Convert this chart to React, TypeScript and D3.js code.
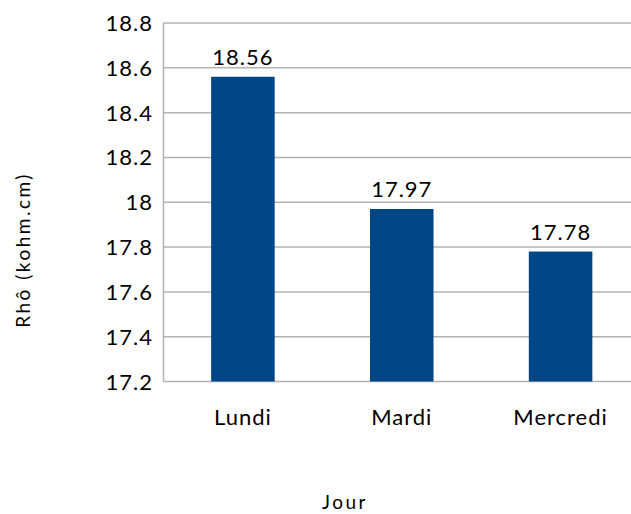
import React, { useRef, useEffect } from "react";
import * as d3 from "d3";

const days = ["Lundi", "Mardi", "Mercredi"];
const rho = [18.56, 17.97, 17.78];
const yTicks = [17.2, 17.4, 17.6, 17.8, 18, 18.2, 18.4, 18.6, 18.8];

export default function App() {
  const ref = useRef<SVGSVGElement | null>(null);

  useEffect(() => {
    const svg = d3.select(ref.current);
    svg.selectAll("*").remove();
    const font = "Lato, Carlito, 'Open Sans', sans-serif";

    const left = 163.5;
    const right = 640;
    const top = 23;
    const bottom = 381.5;

    const x = d3.scaleBand().domain(days).range([left, right]).paddingInner(0.6).paddingOuter(0.3);
    const y = d3.scaleLinear().domain([17.2, 18.8]).range([bottom, top]);

    // grid
    svg.append("g")
      .selectAll("line")
      .data(yTicks)
      .enter()
      .append("line")
      .attr("x1", left)
      .attr("x2", right)
      .attr("y1", (d) => y(d))
      .attr("y2", (d) => y(d))
      .attr("stroke", "#b3b3b3")
      .attr("stroke-width", 1.5);

    svg.append("line")
      .attr("x1", left).attr("x2", left)
      .attr("y1", top).attr("y2", bottom)
      .attr("stroke", "#b3b3b3")
      .attr("stroke-width", 1.5);

    // tick labels
    svg.append("g")
      .selectAll("text")
      .data(yTicks)
      .enter()
      .append("text")
      .attr("x", 153)
      .attr("y", (d) => y(d) + 8)
      .attr("text-anchor", "end")
      .style("font-family", font)
      .style("font-size", "22px")
      .style("letter-spacing", "1px")
      .attr("fill", "#000")
      .text((d) => String(d));

    // bars
    svg.append("g")
      .selectAll("rect")
      .data(rho)
      .enter()
      .append("rect")
      .attr("x", (d, i) => x(days[i]) as number)
      .attr("width", x.bandwidth())
      .attr("y", (d) => y(d))
      .attr("height", (d) => bottom - y(d))
      .attr("fill", "#004586");

    // value labels
    svg.append("g")
      .selectAll("text")
      .data(rho)
      .enter()
      .append("text")
      .attr("x", (d, i) => (x(days[i]) as number) + x.bandwidth() / 2)
      .attr("y", (d) => y(d) - 12)
      .attr("text-anchor", "middle")
      .style("font-family", font)
      .style("font-size", "22px")
      .style("letter-spacing", "1px")
      .text((d) => d.toFixed(2));

    // category labels
    svg.append("g")
      .selectAll("text")
      .data(days)
      .enter()
      .append("text")
      .attr("x", (d) => (x(d) as number) + x.bandwidth() / 2)
      .attr("y", 425)
      .attr("text-anchor", "middle")
      .style("font-family", font)
      .style("font-size", "22px")
      .style("letter-spacing", "1px")
      .text((d) => d);

    // axis titles
    svg.append("text")
      .attr("x", 345)
      .attr("y", 509)
      .attr("text-anchor", "middle")
      .style("font-family", font)
      .style("font-size", "19px")
      .style("letter-spacing", "2.5px")
      .text("Jour");

    svg.append("text")
      .attr("transform", "translate(30,250) rotate(-90)")
      .attr("text-anchor", "middle")
      .style("font-family", font)
      .style("font-size", "19px")
      .style("letter-spacing", "2.5px")
      .text("Rhô (kohm.cm)");
  }, []);

  return (
    <svg
      ref={ref}
      width={631}
      height={514}
      style={{ position: "absolute", left: 0, top: 0, background: "#fff" }}
    ></svg>
  );
}
